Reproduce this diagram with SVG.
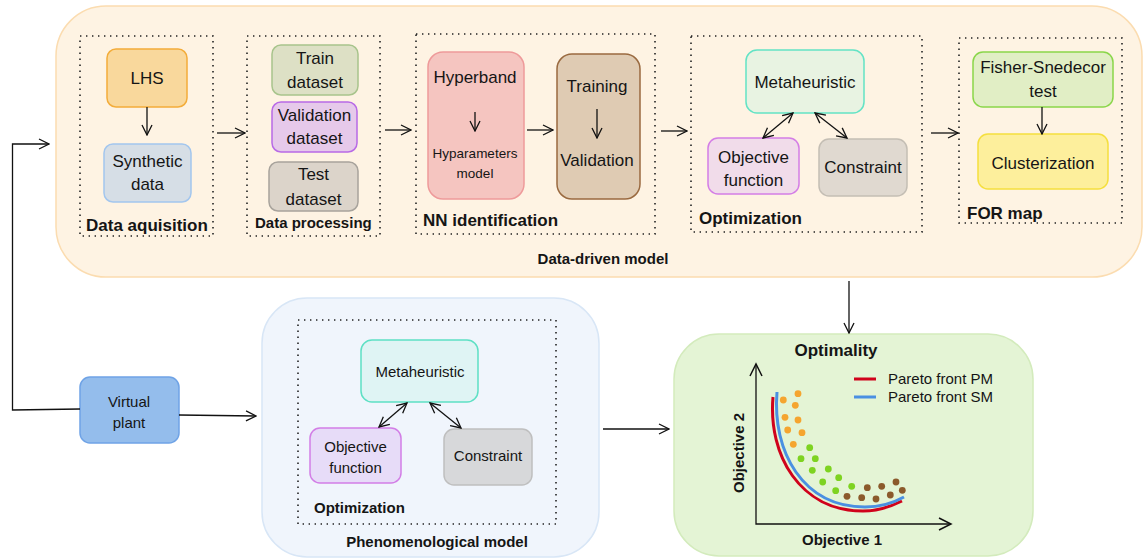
<svg xmlns="http://www.w3.org/2000/svg" width="1144" height="559" viewBox="0 0 1144 559">
  <defs>
    <marker id="arr" viewBox="0 0 12 12" refX="11" refY="6" markerWidth="12" markerHeight="12" markerUnits="userSpaceOnUse" orient="auto-start-reverse">
      <path d="M1,1 L11,6 L1,11" fill="none" stroke="#111" stroke-width="1.3"/>
    </marker>
    <style>
      text { font-family: "Liberation Sans", Arial, sans-serif; fill: #151515; }
      .t17 { font-size: 17px; text-anchor: middle; }
      .t15 { font-size: 15px; text-anchor: middle; }
      .b17 { font-size: 17px; font-weight: bold; }
      .b15 { font-size: 15px; font-weight: bold; }
      .dot { fill: none; stroke: #222; stroke-width: 1.6; stroke-dasharray: 1.4 4.6; }
      .link { fill: none; stroke: #111; stroke-width: 1.3; }
      .node { stroke-width: 1.5; }
    </style>
  </defs>

  <!-- Data-driven model container -->
  <g id="data-driven-model">
    <rect x="56" y="6" width="1086" height="271" rx="50" fill="#fef3e3" stroke="#fbdcb0" stroke-width="1.5"/>
    <text class="b15" x="603" y="264" text-anchor="middle">Data-driven model</text>
  </g>

  <!-- Data acquisition -->
  <g id="data-acquisition">
    <rect class="dot" x="80" y="36" width="133" height="200"/>
    <text class="b17" x="86" y="231">Data aquisition</text>
  </g>
  <g id="lhs">
    <rect class="node" x="107" y="49" width="80" height="58" rx="9" fill="#f9d89c" stroke="#f3ac3a"/>
    <text class="t17" x="147" y="84">LHS</text>
  </g>
  <g id="synthetic-data">
    <rect class="node" x="104" y="144" width="87" height="58" rx="9" fill="#d6dee6" stroke="#a3c6ee"/>
    <text class="t17" x="147.5" y="167">Synthetic</text>
    <text class="t17" x="147.5" y="190">data</text>
  </g>

  <!-- Data processing -->
  <g id="data-processing">
    <rect class="dot" x="247" y="36" width="133" height="200"/>
    <text class="b15" x="255" y="228">Data processing</text>
  </g>
  <g id="train-dataset">
    <rect class="node" x="272" y="45" width="86" height="50" rx="9" fill="#dde0c5" stroke="#a8c48c"/>
    <text class="t17" x="315" y="64">Train</text>
    <text class="t17" x="315" y="88">dataset</text>
  </g>
  <g id="validation-dataset">
    <rect class="node" x="272" y="102" width="85" height="50" rx="9" fill="#e6c9ea" stroke="#b86ae6"/>
    <text class="t17" x="314.5" y="121">Validation</text>
    <text class="t17" x="314.5" y="144">dataset</text>
  </g>
  <g id="test-dataset">
    <rect class="node" x="269" y="162" width="89" height="49" rx="9" fill="#dcd4ca" stroke="#a8a39c"/>
    <text class="t17" x="313.5" y="180">Test</text>
    <text class="t17" x="313.5" y="205">dataset</text>
  </g>

  <!-- NN identification -->
  <g id="nn-identification">
    <rect class="dot" x="416" y="34" width="239" height="200"/>
    <text class="b17" x="423" y="226">NN identification</text>
  </g>
  <g id="hyperband">
    <rect class="node" x="428" y="52" width="96" height="147" rx="15" fill="#f5c5c0" stroke="#ee9a9a"/>
    <text class="t17" x="475" y="83">Hyperband</text>
    <text x="475" y="158" font-size="13.5" text-anchor="middle">Hyparameters</text>
    <text x="475" y="178" font-size="13.5" text-anchor="middle">model</text>
  </g>
  <g id="training">
    <rect class="node" x="557" y="54" width="83" height="145" rx="15" fill="#dfcbb3" stroke="#9a6a40"/>
    <text class="t17" x="597" y="92">Training</text>
    <text class="t17" x="597" y="166">Validation</text>
  </g>

  <!-- Optimization (data-driven) -->
  <g id="optimization-dd">
    <rect class="dot" x="691" y="36" width="231" height="196"/>
    <text class="b17" x="699" y="224">Optimization</text>
  </g>
  <g id="metaheuristic-dd">
    <rect class="node" x="746" y="50" width="118" height="63" rx="11" fill="#e8f3e2" stroke="#63e3c5"/>
    <text class="t17" x="805" y="88">Metaheuristic</text>
  </g>
  <g id="objective-dd">
    <rect class="node" x="708" y="138" width="91" height="56" rx="10" fill="#f1dcea" stroke="#d47ee6"/>
    <text class="t17" x="753.5" y="163">Objective</text>
    <text class="t17" x="753.5" y="186">function</text>
  </g>
  <g id="constraint-dd">
    <rect class="node" x="819" y="139" width="88" height="57" rx="10" fill="#e0d9d0" stroke="#c4beb4"/>
    <text class="t17" x="863" y="173">Constraint</text>
  </g>

  <!-- FOR map -->
  <g id="for-map">
    <rect class="dot" x="959" y="38" width="163" height="185"/>
    <text class="b17" x="967" y="219">FOR map</text>
  </g>
  <g id="fisher-snedecor">
    <rect class="node" x="973" y="52" width="140" height="55" rx="10" fill="#e1eec5" stroke="#8ad64a"/>
    <text class="t17" x="1043" y="73">Fisher-Snedecor</text>
    <text class="t17" x="1043" y="97">test</text>
  </g>
  <g id="clusterization">
    <rect class="node" x="978" y="134" width="130" height="55" rx="10" fill="#fdef9c" stroke="#f5df3e"/>
    <text class="t17" x="1043" y="169">Clusterization</text>
  </g>

  <!-- Virtual plant -->
  <g id="virtual-plant">
    <rect class="node" x="80" y="377" width="99" height="66" rx="10" fill="#94bdec" stroke="#6fa3e6"/>
    <text class="t15" x="129" y="407">Virtual</text>
    <text class="t15" x="129" y="428">plant</text>
  </g>

  <!-- Phenomenological model -->
  <g id="phenomenological-model">
    <rect x="262" y="298" width="337" height="259" rx="45" fill="#f0f5fc" stroke="#d8e6f6" stroke-width="1.5"/>
    <rect class="dot" x="298" y="320" width="258" height="204"/>
    <text class="b15" x="314" y="513">Optimization</text>
    <text class="b15" x="437" y="547" text-anchor="middle">Phenomenological model</text>
  </g>
  <g id="metaheuristic-pm">
    <rect class="node" x="361" y="340" width="117" height="62" rx="11" fill="#dff4f4" stroke="#5ee0c4"/>
    <text class="t15" x="420" y="377">Metaheuristic</text>
  </g>
  <g id="objective-pm">
    <rect class="node" x="310" y="428" width="91" height="55" rx="10" fill="#e7dcf8" stroke="#d27ee6"/>
    <text class="t15" x="355.5" y="452">Objective</text>
    <text class="t15" x="355.5" y="473">function</text>
  </g>
  <g id="constraint-pm">
    <rect class="node" x="444" y="429" width="88" height="56" rx="10" fill="#d7d8da" stroke="#bfbfbf"/>
    <text class="t15" x="488" y="461">Constraint</text>
  </g>

  <!-- Optimality chart -->
  <g id="optimality">
    <rect x="674" y="334" width="359" height="222" rx="45" fill="#e4f4d5" stroke="#d3ebbc" stroke-width="1.5"/>
    <text class="b17" x="836" y="356" text-anchor="middle">Optimality</text>
    <polyline class="link" points="756,364 756,524 951,524" stroke-width="1.5"/>
    <path d="M750,376 L756,364 L762,376" fill="none" stroke="#111" stroke-width="1.5"/>
    <path d="M939,518 L951,524 L939,530" fill="none" stroke="#111" stroke-width="1.5"/>
    <text class="b15" x="842" y="545" text-anchor="middle">Objective 1</text>
    <text class="b15" transform="translate(744,453) rotate(-90)" text-anchor="middle">Objective 2</text>
    <line x1="854" y1="379" x2="876" y2="379" stroke="#d0021b" stroke-width="3"/>
    <line x1="854" y1="397" x2="876" y2="397" stroke="#4a90e2" stroke-width="3"/>
    <text x="888" y="384" font-size="15">Pareto front PM</text>
    <text x="888" y="402" font-size="15">Pareto front SM</text>
    <path d="M773,397 C768,455 800,511 863,511 C880,511 892,506 902,501" fill="none" stroke="#d0021b" stroke-width="3"/>
    <path d="M777,392 C772,452 803,507 865,507 C882,507 895,502 904,497" fill="none" stroke="#4a90e2" stroke-width="3"/>
    <g fill="#f5a52f">
      <circle cx="783.3" cy="400" r="3.4"/><circle cx="798" cy="393.7" r="3.4"/>
      <circle cx="795.3" cy="405.3" r="3.4"/><circle cx="785" cy="417.3" r="3.4"/>
      <circle cx="798" cy="420" r="3.4"/><circle cx="787.7" cy="430" r="3.4"/>
      <circle cx="802" cy="432.7" r="3.4"/><circle cx="793.3" cy="444.3" r="3.4"/>
    </g>
    <g fill="#7ed321">
      <circle cx="809.7" cy="447.7" r="3.4"/><circle cx="801" cy="458.7" r="3.4"/>
      <circle cx="815.3" cy="458.7" r="3.4"/><circle cx="812.3" cy="470.3" r="3.4"/>
      <circle cx="828.3" cy="469" r="3.4"/><circle cx="822.7" cy="482" r="3.4"/>
      <circle cx="838.7" cy="477.7" r="3.4"/><circle cx="835.7" cy="490.7" r="3.4"/>
      <circle cx="851.7" cy="486.3" r="3.4"/>
    </g>
    <g fill="#8b5a2b">
      <circle cx="867.3" cy="487.7" r="3.4"/><circle cx="881.7" cy="486.3" r="3.4"/>
      <circle cx="896" cy="482" r="3.4"/><circle cx="847" cy="496.3" r="3.4"/>
      <circle cx="861.7" cy="497.7" r="3.4"/><circle cx="876" cy="499" r="3.4"/>
      <circle cx="890.3" cy="495" r="3.4"/><circle cx="902.3" cy="490.3" r="3.4"/>
    </g>
  </g>

  <!-- Connectors -->
  <g id="connectors" class="link">
    <line x1="147" y1="107" x2="147" y2="135" marker-end="url(#arr)"/>
    <line x1="217" y1="133" x2="245" y2="133" marker-end="url(#arr)"/>
    <line x1="385" y1="130" x2="411" y2="130" marker-end="url(#arr)"/>
    <line x1="475" y1="112" x2="475" y2="131" marker-end="url(#arr)"/>
    <line x1="527" y1="130" x2="553" y2="130" marker-end="url(#arr)"/>
    <line x1="597" y1="109" x2="597" y2="138" marker-end="url(#arr)"/>
    <line x1="661" y1="131" x2="687" y2="131" marker-end="url(#arr)"/>
    <line x1="793" y1="113" x2="763" y2="138" marker-start="url(#arr)" marker-end="url(#arr)"/>
    <line x1="815" y1="113" x2="847" y2="138" marker-start="url(#arr)" marker-end="url(#arr)"/>
    <line x1="931" y1="133" x2="958" y2="133" marker-end="url(#arr)"/>
    <line x1="1042" y1="107" x2="1042" y2="134" marker-end="url(#arr)"/>
    <polyline points="80,409 12.5,410 12.5,144 49,144" marker-end="url(#arr)"/>
    <line x1="179" y1="415" x2="256" y2="416" marker-end="url(#arr)"/>
    <line x1="407" y1="403" x2="379" y2="427" marker-start="url(#arr)" marker-end="url(#arr)"/>
    <line x1="430" y1="403" x2="461" y2="428" marker-start="url(#arr)" marker-end="url(#arr)"/>
    <line x1="603" y1="429" x2="669" y2="429" marker-end="url(#arr)"/>
    <line x1="849" y1="281" x2="849" y2="333" marker-end="url(#arr)"/>
  </g>
</svg>
